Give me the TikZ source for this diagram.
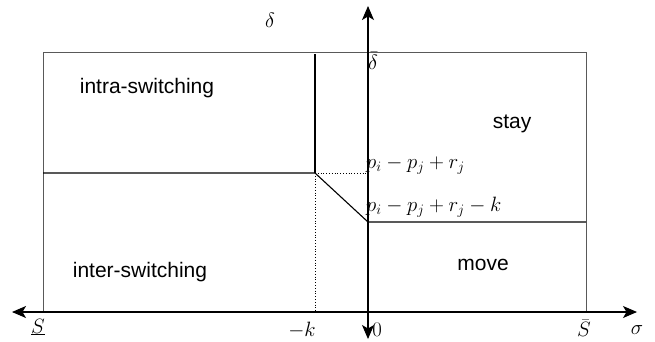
\documentclass[tikz,border=0pt]{standalone}
\usepackage{fontspec}
\setmainfont{Liberation Sans}
\usetikzlibrary{arrows.meta}
\tikzset{
  axisline/.style={black, line width=1.1pt, {Stealth[length=14pt,width=12pt,inset=3.5pt]}-{Stealth[length=14pt,width=12pt,inset=3.5pt]}},
  frameline/.style={draw=black!65, line width=1pt},
  boundline/.style={black, line width=1.1pt},
  dotline/.style={black, line width=0.8pt, dotted},
  regionlabel/.style={font=\fontsize{21}{25}\selectfont, inner sep=0pt},
  mathlabel/.style={font=\fontsize{21}{25}\selectfont, inner sep=0pt},
}
\begin{document}
\begin{tikzpicture}[x=1pt,y=-1pt]
\useasboundingbox (0,0) rectangle (655,341);
% coordinates
\coordinate (TL) at (43,52);
\coordinate (BR) at (586,312);
\coordinate (BL) at (43,312);
\coordinate (TR) at (586,52);
\coordinate (K) at (315,173);
\coordinate (KT) at (315,54);
\coordinate (KB) at (315,312);
\coordinate (L) at (43,173);
\coordinate (A) at (368,173);
\coordinate (M) at (368,222);
\coordinate (MR) at (586,222);
\coordinate (XL) at (12,312);
\coordinate (XR) at (637,312);
\coordinate (YT) at (368,6);
\coordinate (YB) at (368,339);
% frame
\draw[frameline] (BL) -- (TL) -- (TR) -- (BR);
% region boundaries
\draw[boundline] (KT) -- (K);
\draw[boundline] (L) -- (K) -- (M) -- (MR);
\draw[dotline] (K) -- (A);
\draw[dotline] (K) -- (KB);
% axes
\draw[axisline] (XL) -- (XR);
\draw[axisline] (YB) -- (YT);
% labels
\node[regionlabel] (intra) at (147,88) {intra-switching};
\node[regionlabel] (inter) at (140,272) {inter-switching};
\node[regionlabel] (stay) at (512,124) {stay};
\node[regionlabel] (move) at (483,265) {move};
\node[mathlabel] (delta) at (270,20) {$\delta$};
\node[mathlabel, anchor=north west] (dbar) at (368,52) {$\bar{\delta}$};
\node[mathlabel, anchor=west] (pr) at (366,165) {$p_i - p_j + r_j$};
\node[mathlabel, anchor=west] (prk) at (366,207) {$p_i - p_j + r_j - k$};
\node[mathlabel] (Sl) at (38,327) {$\underline{S}$};
\node[mathlabel] (mk) at (302,330) {$-k$};
\node[mathlabel] (zero) at (377,330) {$0$};
\node[mathlabel] (Sb) at (584,328) {$\bar{S}$};
\node[mathlabel] (sig) at (637,330) {$\sigma$};
\end{tikzpicture}
\end{document}
